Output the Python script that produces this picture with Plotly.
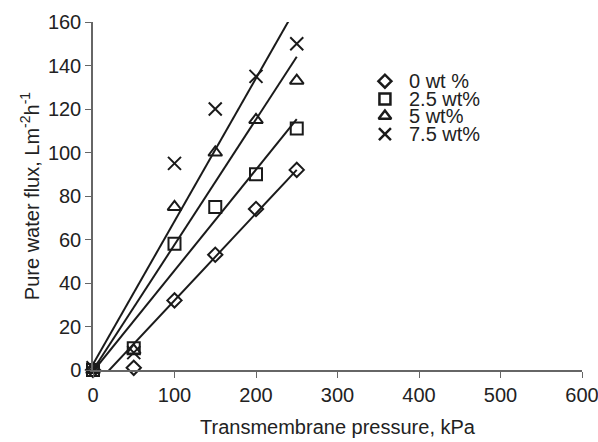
import numpy as np
import plotly.graph_objects as go

pressure = [0, 50, 100, 150, 200, 250]
series_names = ["0 wt %", "2.5 wt%", "5 wt%", "7.5 wt%"]
flux_0 = [0, 1, 32, 53, 74, 92]
flux_25 = [0, 10, 58, 75, 90, 111]
flux_5 = [0, 9, 75, 100, 115, 133]
flux_75 = [1, 8, 95, 120, 135, 150]
symbols = ["diamond-open", "square-open", "triangle-up-open", "x-thin-open"]
marker_sizes = [11, 12, 12, 13]

INK = "#1a1a1a"
FONT = "Liberation Sans, Arial, sans-serif"
FS = 20

fig = go.Figure()
all_flux = [flux_0, flux_25, flux_5, flux_75]
x_arr = np.array(pressure, dtype=float)

# regression trend lines
for ys in all_flux:
    slope, icpt = np.polyfit(x_arr, np.array(ys, dtype=float), 1)
    xl = [0, 250]
    fig.add_trace(go.Scatter(x=xl, y=[icpt + slope * v for v in xl], mode="lines",
                             line=dict(color=INK, width=2), showlegend=False,
                             hoverinfo="skip"))

# data markers
for name, ys, sym, ms in zip(series_names, all_flux, symbols, marker_sizes):
    fig.add_trace(go.Scatter(x=pressure, y=ys, mode="markers", name=name,
                             marker=dict(symbol=sym, size=ms, color=INK,
                                         line=dict(color=INK, width=2)),
                             cliponaxis=False, showlegend=False))

# compact legend (symbols on an overlay axis, labels as annotations)
leg_x = 0.597
leg_text_x = 0.644
leg_rows = [0.830, 0.779, 0.730, 0.678]
for name, sym, ms, ly in zip(series_names, symbols, marker_sizes, leg_rows):
    fig.add_trace(go.Scatter(x=[leg_x], y=[ly], mode="markers", xaxis="x2", yaxis="y2",
                             marker=dict(symbol=sym, size=ms - 1, color=INK,
                                         line=dict(color=INK, width=2.5)),
                             showlegend=False, hoverinfo="skip", cliponaxis=False))
    fig.add_annotation(x=leg_text_x, y=ly, xref="paper", yref="paper", text=name,
                       showarrow=False, xanchor="left", yanchor="middle", height=16,
                       borderpad=0,
                       font=dict(size=FS, color="#222", family=FONT))

fig.update_layout(
    width=598, height=442,
    margin=dict(l=93, r=16, t=22, b=72),
    paper_bgcolor="white", plot_bgcolor="white",
    font=dict(family=FONT, size=FS, color="#222"),
    showlegend=False,
    xaxis=dict(range=[0, 600], dtick=100, showgrid=False, zeroline=False,
               showline=True, linecolor="#666", linewidth=1.5,
               ticks="outside", ticklen=6, tickcolor="#666", automargin=False,
               ticklabeloverflow="allow",
               tickfont=dict(size=FS),
               title=dict(text="Transmembrane pressure, kPa", standoff=15,
                          font=dict(size=FS))),
    yaxis=dict(range=[0, 160], dtick=20, showgrid=False, zeroline=False,
               showline=True, linecolor="#666", linewidth=1.5,
               ticks="outside", ticklen=6, tickcolor="#666", automargin=False,
               ticklabeloverflow="allow",
               tickfont=dict(size=FS),
               title=dict(text="Pure water flux, Lm<sup>-2</sup>h<sup>-1</sup>", standoff=3,
                          font=dict(size=FS))),
    xaxis2=dict(overlaying="x", range=[0, 1], visible=False),
    yaxis2=dict(overlaying="y", range=[0, 1], visible=False),
)

fig.write_html("out.html")
